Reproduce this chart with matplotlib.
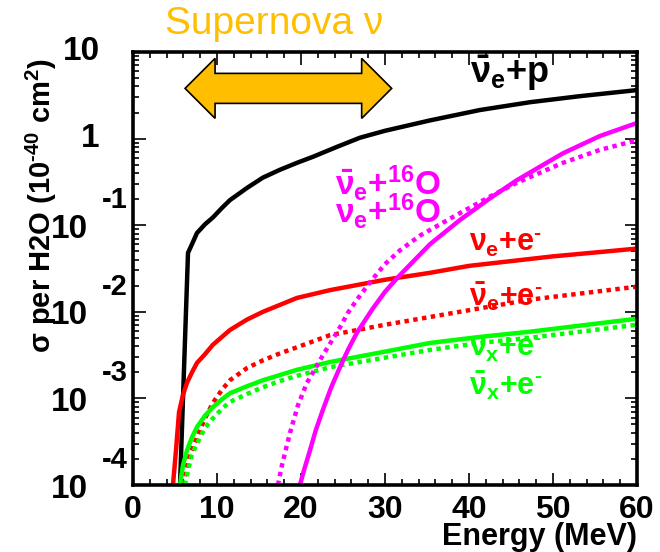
import numpy as np
import matplotlib
matplotlib.use('Agg')
import matplotlib.pyplot as plt
from matplotlib.patches import Polygon
from matplotlib.ticker import MultipleLocator, FixedLocator, NullFormatter
from matplotlib.transforms import ScaledTranslation

plt.rcParams['font.family'] = ['Liberation Sans', 'DejaVu Sans']
plt.rcParams['font.weight'] = 'bold'
plt.rcParams['mathtext.fontset'] = 'custom'
plt.rcParams['mathtext.rm'] = 'Liberation Sans:bold'
plt.rcParams['mathtext.it'] = 'Liberation Sans:bold'
plt.rcParams['mathtext.bf'] = 'Liberation Sans:bold'
plt.rcParams['mathtext.sf'] = 'Liberation Sans:bold'

# cross sections, log10(sigma / 1e-40 cm2) vs energy (MeV)
e_ibd = [5.60, 6.55, 7.02, 7.62, 8.57, 9.52, 10.6, 11.55, 13.57, 15.48, 17.5,
         19.52, 21.43, 24.17, 27.02, 30.0, 35.36, 41.31, 47.26, 53.21, 60.0]
l_ibd = [-4.0, -1.32, -1.22, -1.09, -0.99, -0.91, -0.80, -0.71, -0.57, -0.45, -0.36,
         -0.28, -0.21, -0.10, 0.01, 0.09, 0.21, 0.33, 0.42, 0.49, 0.56]

e_nue_e = [4.76, 5.12, 5.48, 5.95, 6.43, 7.02, 7.62, 8.57, 9.52, 11.55, 13.57,
           15.48, 17.5, 19.52, 23.45, 30.0, 35.36, 40.0, 47.26, 50.0, 55.6, 60.0]
l_nue_e = [-4.0, -3.60, -3.16, -2.96, -2.82, -2.70, -2.59, -2.49, -2.38, -2.21, -2.09,
           -2.00, -1.92, -1.84, -1.75, -1.63, -1.55, -1.47, -1.39, -1.36, -1.31, -1.27]

e_nuebar_e = [5.95, 6.31, 6.79, 7.62, 8.57, 9.52, 10.6, 11.55, 13.57, 15.48, 17.5,
              19.52, 23.45, 30.0, 35.36, 41.31, 47.26, 53.21, 60.0]
l_nuebar_e = [-4.0, -3.83, -3.65, -3.45, -3.23, -3.05, -2.90, -2.79, -2.65, -2.56, -2.48,
              -2.41, -2.27, -2.15, -2.06, -1.96, -1.86, -1.79, -1.71]

e_nux_e = [5.60, 5.95, 6.43, 7.02, 7.62, 8.57, 9.52, 10.6, 11.55, 13.57, 15.48,
           17.5, 19.52, 23.45, 30.0, 35.36, 41.31, 47.26, 53.21, 60.0]
l_nux_e = [-4.0, -3.77, -3.60, -3.45, -3.33, -3.20, -3.10, -3.01, -2.94, -2.86, -2.79,
           -2.73, -2.67, -2.58, -2.46, -2.36, -2.29, -2.23, -2.16, -2.08]

e_nuxbar_e = [6.19, 6.55, 7.02, 7.62, 8.57, 9.52, 10.6, 11.55, 13.57, 15.48,
              17.5, 19.52, 23.45, 30.0, 35.36, 41.31, 47.26, 53.21, 60.0]
l_nuxbar_e = [-4.0, -3.83, -3.65, -3.52, -3.34, -3.23, -3.12, -3.04, -2.95, -2.87,
              -2.80, -2.74, -2.64, -2.53, -2.44, -2.36, -2.30, -2.23, -2.15]

e_nue_o = [19.88, 20.36, 21.07, 21.79, 22.62, 23.57, 24.64, 25.6, 26.67, 28.57,
           30.0, 31.55, 35.36, 38.93, 42.5, 45.71, 51.19, 55.6, 60.0]
l_nue_o = [-4.0, -3.83, -3.60, -3.36, -3.13, -2.88, -2.64, -2.44, -2.24, -1.96,
           -1.77, -1.60, -1.22, -0.94, -0.69, -0.48, -0.17, 0.03, 0.18]

e_nuebar_o = [17.26, 17.74, 18.69, 19.64, 20.71, 21.67, 22.62, 23.57, 24.64, 25.6,
              26.67, 28.21, 30.0, 31.79, 34.17, 36.55, 38.93, 42.5, 45.71, 51.19, 55.6, 60.0]
l_nuebar_o = [-4.0, -3.77, -3.40, -3.08, -2.82, -2.66, -2.50, -2.35, -2.18, -2.01,
              -1.86, -1.66, -1.45, -1.29, -1.12, -0.99, -0.86, -0.67, -0.51, -0.28, -0.13, -0.02]

sn_range = [6.2, 30.8]   # supernova energy window (MeV)
sn_arrow_y = 3.8
decades = [1, 0, -1, -2, -3, -4]

DPI = 100
fig = plt.figure(figsize=(6.6, 5.52), dpi=DPI)
ax = fig.add_axes([0.2015, 0.1214, 0.7635, 0.7844])

lw = 3.2
ax.plot(e_ibd, 10**np.array(l_ibd), color='black', lw=lw)
ax.plot(e_nue_e, 10**np.array(l_nue_e), color='#ff0000', lw=lw)
ax.plot(e_nuebar_e, 10**np.array(l_nuebar_e), color='#ff0000', lw=lw, ls=(0, (1, 1)))
ax.plot(e_nux_e, 10**np.array(l_nux_e), color='#00ff00', lw=lw)
ax.plot(e_nuxbar_e, 10**np.array(l_nuxbar_e), color='#00ff00', lw=lw, ls=(0, (1, 1)))
ax.plot(e_nue_o, 10**np.array(l_nue_o), color='#ff00ff', lw=lw)
ax.plot(e_nuebar_o, 10**np.array(l_nuebar_o), color='#ff00ff', lw=lw, ls=(0, (1, 1)))

ax.set_yscale('log')
ax.set_xlim(0, 60)
ax.set_ylim(1e-4, 10)

for s in ax.spines.values():
    s.set_linewidth(2.6)
ax.xaxis.set_major_locator(MultipleLocator(10))
ax.xaxis.set_minor_locator(MultipleLocator(2))
ax.tick_params(which='both', direction='in', top=True, right=True, width=1.2)
ax.tick_params(which='major', length=9)
ax.tick_params(which='minor', length=4.5)
ax.tick_params(axis='x', labelsize=23, pad=7)
ax.yaxis.set_major_locator(FixedLocator([10.0**d for d in range(-4, 2)]))
ax.yaxis.set_major_formatter(NullFormatter())
ax.yaxis.set_minor_formatter(NullFormatter())
for lab in ax.get_xticklabels():
    lab.set_fontweight('bold')

# ROOT-like y tick labels
ytr = ax.get_yaxis_transform()
for d in decades:
    if d in (1, 0):
        ax.text(-0.066, 10.0**d, '10' if d == 1 else '1', transform=ytr,
                ha='right', va='center', fontsize=24, fontweight='bold')
    else:
        ax.text(-0.089, 10.0**d, '10',
                transform=ytr + ScaledTranslation(0, -3 / 72, fig.dpi_scale_trans),
                ha='right', va='center', fontsize=24, fontweight='bold')
        ax.text(-0.01, 10.0**d, str(d),
                transform=ytr + ScaledTranslation(0, 18 / 72, fig.dpi_scale_trans),
                ha='right', va='center', fontsize=21, fontweight='bold')

fig.text(0.062, 0.627, r'$\sigma$ per H2O (10$^{\text{-40}}$ cm$^{2}$)', rotation=90,
         ha='center', va='center', fontsize=21, fontweight='bold')
ax.set_xlabel('Energy (MeV)', fontsize=22, fontweight='bold', loc='right', labelpad=-2)

fig.text(0.25, 0.957, 'Supernova ν', color='#ffbf00', fontsize=28,
         fontweight='normal', va='center', ha='left')

# curve labels
ax.text(40.1, 10**0.76, r'$\bar{\nu}_{e}$+p', color='black', fontsize=26, va='center')
ax.text(24.0, 10**-0.51, r'$\bar{\nu}_{e}$+$^{16}$O', color='#ff00ff', fontsize=24, va='center')
ax.text(24.0, 10**-0.84, r'$\nu_{e}$+$^{16}$O', color='#ff00ff', fontsize=24, va='center')
fs = 22
ax.text(40.0, 10**-1.2, r'$\nu_{e}$+e$^{\text{-}}$', color='#ff0000', fontsize=fs, va='center')
ax.text(40.0, 10**-1.82, r'$\bar{\nu}_{e}$+e$^{\text{-}}$', color='#ff0000', fontsize=fs, va='center')
ax.text(40.0, 10**-2.42, r'$\nu_{x}$+e$^{\text{-}}$', color='#00ff00', fontsize=fs, va='center')
ax.text(40.0, 10**-2.85, r'$\bar{\nu}_{x}$+e$^{\text{-}}$', color='#00ff00', fontsize=fs, va='center')

# double-headed supernova arrow, built in display pixels
fig.canvas.draw()
(x0, yc), (x1, _) = ax.transData.transform([(sn_range[0], sn_arrow_y), (sn_range[1], sn_arrow_y)])
sh, hh, hl = 15, 30, 30
verts = [(x0, yc), (x0 + hl, yc + hh), (x0 + hl, yc + sh), (x1 - hl, yc + sh),
         (x1 - hl, yc + hh), (x1, yc), (x1 - hl, yc - hh), (x1 - hl, yc - sh),
         (x0 + hl, yc - sh), (x0 + hl, yc - hh)]
ax.add_patch(Polygon(verts, closed=True, transform=None, facecolor='#ffbf00',
                     edgecolor='black', lw=1.2, zorder=5))

fig.savefig('out.png', dpi=DPI)
